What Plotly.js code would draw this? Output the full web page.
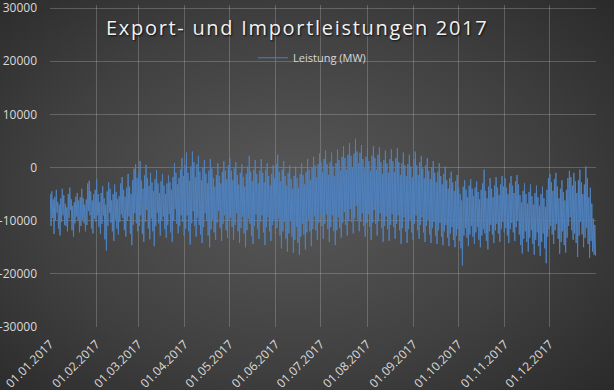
<!DOCTYPE html>
<html><head><meta charset="utf-8">
<script src="https://cdn.plot.ly/plotly-3.0.1.min.js"></script>
<style>
html,body{margin:0;padding:0;width:614px;height:390px;overflow:hidden;}
body{background: radial-gradient(ellipse 75% 80% at 48% 50%, #595959 0%, #404040 55%, #262626 100%);}
#chart{width:614px;height:390px;}
.gtitle{letter-spacing:1.7px;}
</style></head><body><div id="chart"></div>
<script>
const monthStarts = ['2017-01-01','2017-02-01','2017-03-01','2017-04-01','2017-05-01','2017-06-01','2017-07-01','2017-08-01','2017-09-01','2017-10-01','2017-11-01','2017-12-01','2018-01-01'];
const monthLabels = ['01.01.2017','01.02.2017','01.03.2017','01.04.2017','01.05.2017','01.06.2017','01.07.2017','01.08.2017','01.09.2017','01.10.2017','01.11.2017','01.12.2017',''];
const yTicks = [-30000,-20000,-10000,0,10000,20000,30000];
const yLabels = ['-30000','-20000','-10000','0','10000','20000','30000'];
const seriesName = 'Leistung (MW)';
const chartTitle = 'Export- und Importleistungen 2017';

// daily high / low pairs (MW)
const jan = [-5000,-11000,-4500,-9500,-6000,-12500,-5500,-10000,-4200,-8500,-6500,-11500,-7000,-12800,-5800,-10200,-4000,-9000,-5200,-10800,-6800,-11000,-7500,-12000,-5000,-9500,-3800,-8000,-6000,-11800,-7200,-13000,-6500,-10500,-5500,-9200,-4800,-10000,-6200,-12200,-5600,-11000,-4000,-9800,-5800,-10500,-7000,-12000,-6000,-10800,-3000,-8200,-2500,-9000,-4500,-11500,-6200,-12400,-5000,-9600,-4200,-10200];
const feb = [-2200,-9000,-5000,-11200,-6500,-12500,-4800,-10600,-3500,-9000,-5800,-13500,-7000,-15600,-4500,-11000,-2800,-8500,-4000,-10400,-6200,-12000,-5000,-13800,-3200,-9800,-4600,-11500,-6000,-12600,-5400,-10200,-3000,-8800,-1800,-9500,-4200,-11800,-5500,-13000,-3800,-10000,-1200,-9200,-3600,-12500,-5000,-14600,-2400,-10800,-200,-8600,600,-10500,-2000,-12000];
const mar = [-1000,-11000,1200,-9000,-2500,-12500,-4000,-14000,-1500,-10200,500,-8000,-2000,-11500,-3500,-13500,-1000,-9600,-2800,-12000,-4500,-14800,-2200,-11000,-500,-8500,-3000,-10500,-4800,-12800,-2600,-10000,-1200,-9200,-3400,-11600,-5000,-13200,-3000,-10800,-1500,-8800,-2800,-12200,-4200,-14000,-1800,-10000,800,-7800,-1000,-10600,-3200,-12400,-2000,-11000,-400,-9000,1800,-10200,-1600,-12800];
const apr = [400,-11500,2800,-9000,-1000,-12000,-2500,-14500,200,-10500,3000,-8200,1000,-11000,-1800,-13000,600,-9400,2200,-10800,-800,-12600,-2400,-14200,0,-11200,1400,-8600,-1200,-10000,-3000,-12800,-600,-15000,1600,-11600,-200,-9800,-2000,-12200,-3600,-13600,-1400,-10400,800,-8200,-1600,-11400,-3000,-13800,-800,-10600,1200,-9000,-600,-11800,-2200,-13200,400,-10000];
const may = [1800,-9400,-600,-11200,-2400,-13600,-200,-10800,1000,-8600,-1400,-12000,-3200,-14200,-1000,-11400,600,-9200,-1800,-12400,-3600,-15000,-1200,-11800,200,-9600,2200,-10600,-800,-12800,-2600,-14400,-400,-11000,1400,-8800,-1200,-11600,-3000,-13400,-600,-10200,1600,-9000,-1000,-12200,-2800,-14600,-400,-11200,800,-9400,-1600,-12000,-3400,-13800,-1200,-10800,400,-9800,-2000,-12600];
const jun = [600,-11400,2400,-9600,-800,-12800,-2600,-15200,-400,-12000,1200,-10200,-1600,-13400,-3400,-15800,-1000,-12400,400,-10000,-2200,-13000,-4000,-16000,-1600,-13600,200,-11200,-2000,-14200,-3800,-16400,-1200,-13000,800,-10600,-1400,-12600,-3200,-15400,-800,-12200,1600,-9800,-400,-12000,-2400,-14800,0,-11600,2000,-9200,400,-11800,-1800,-13600,600,-10400,2600,-8800];
const jul = [1000,-11000,-800,-13400,1600,-10600,3200,-8800,600,-11600,-1400,-14000,1000,-11200,2800,-9000,200,-12000,-1600,-14600,800,-11800,3400,-9400,1400,-11400,-600,-13200,2000,-10400,4000,-8400,1800,-10800,-400,-12800,2400,-10000,4600,-7800,2200,-10200,0,-12400,2600,-9600,5400,-7200,3000,-9800,800,-12000,2800,-10200,4200,-8600,1600,-11000,-200,-13000,2000,-10400];
const aug = [3600,-8800,1200,-11200,-600,-13600,2200,-10400,4000,-8000,1800,-10600,-400,-12800,2400,-10000,3800,-8600,1000,-11400,-1200,-14000,1400,-11000,3200,-9200,800,-11600,-1000,-13800,1600,-10800,3400,-8800,1200,-11200,-800,-13400,1800,-10600,3600,-9000,1000,-11800,-1400,-14400,800,-11400,2800,-9400,400,-12000,-1600,-14200,600,-11600,2400,-9800,200,-12200,-1800,-13600];
const sep = [1600,-10600,3000,-9000,400,-11800,-1400,-13400,1000,-10800,2200,-9400,-200,-12200,-2000,-14000,400,-11000,1800,-9800,-600,-12600,-2200,-14200,0,-11400,1200,-10200,-1000,-12800,-2800,-14400,-800,-11800,800,-10400,-1600,-13000,-3200,-14600,-1200,-12000,200,-10800,-2400,-13200,-4000,-14800,-2000,-12400,-800,-11200,-2800,-13600,-4400,-15000,-2600,-12800,-1400,-11600];
const oct = [-3800,-13800,-5000,-15200,-6200,-18400,-3600,-12800,-2400,-11400,-4200,-13200,-5600,-14800,-3400,-12600,-2200,-11000,-4000,-13000,-5400,-14400,-3800,-12200,-2600,-11200,-4600,-13600,-6000,-15000,-4200,-12800,-3000,-11600,-400,-12400,-4400,-13800,-5800,-15400,-3600,-12000,-2000,-10800,-4000,-12600,-5600,-14200,-3400,-11800,-1800,-10600,-3800,-12400,-5200,-14000,-3200,-11600,-1600,-10200,-3600,-12200];
const nov = [-2000,-11400,-3800,-12800,-5000,-14200,-3000,-11600,-1600,-10400,-3400,-12200,-4800,-13800,-2600,-11200,-1400,-10000,-3200,-12600,-5200,-14600,-6600,-16200,-4400,-13400,-3000,-12000,-5000,-14000,-6800,-15800,-4600,-13200,-3200,-11800,-5400,-14400,-7000,-16400,-4800,-13600,-3400,-12200,-5600,-14800,-7200,-16600,-5000,-14000,-3600,-12400,-5800,-15200,-7400,-18000,-4200,-13000,-2000,-11600];
const dec = [-1200,-11000,-2800,-12600,-4400,-14400,-2200,-11800,-1000,-10600,-3600,-13400,-5800,-16200,-4000,-14000,-2400,-12000,-4600,-14600,-6200,-16000,-4200,-13200,-2000,-11000,-600,-9400,-1800,-11800,-3400,-13600,-1000,-12400,-2600,-14200,-4800,-16800,-2400,-12800,-400,-10200,-2800,-12600,-5000,-15000,-3200,-13200,200,-11400,-2000,-14400,-5600,-17000,-3800,-13800,-6800,-15800,-9600,-16400,-10800,-16600];

const values = [].concat(jan, feb, mar, apr, may, jun, jul, aug, sep, oct, nov, dec);
function stamp(day, hour) {
  const d = new Date(Date.UTC(2017, 0, 1 + day, hour));
  return d.toISOString().slice(0, 19).replace('T', ' ');
}
const times = values.map((v, i) => stamp(Math.floor(i / 2), i % 2 === 0 ? 5 : 17));

const fontFam = '"Open Sans", "DejaVu Sans", sans-serif';
const grid = 'rgba(200,200,200,0.28)';

Plotly.newPlot('chart', [{
  x: times, y: values, type: 'scatter', mode: 'lines', name: seriesName,
  line: {color: '#4f81bd', width: 1}, showlegend: true
}], {
  width: 614, height: 390,
  margin: {l: 50, r: 18, t: 5, b: 63, pad: 0},
  paper_bgcolor: 'rgba(0,0,0,0)', plot_bgcolor: 'rgba(0,0,0,0)',
  font: {family: fontFam, color: '#d9d9d9', size: 12},
  title: {text: chartTitle, x: 0.484, xref: 'container', xanchor: 'center', y: 0.929, yref: 'container', yanchor: 'middle',
    font: {family: fontFam, size: 20, color: '#f2f2f2', shadow: '1px 1px 2px rgba(0,0,0,0.8)'}},
  showlegend: true,
  legend: {orientation: 'h', x: 0.372, xanchor: 'left', y: 0.836, yanchor: 'middle', bgcolor: 'rgba(0,0,0,0)',
    font: {family: fontFam, size: 11, color: '#d9d9d9'}},
  xaxis: {type: 'date', range: ['2017-01-01', '2018-01-01'], tickmode: 'array', tickvals: monthStarts, ticktext: monthLabels,
    tickangle: -45, showgrid: true, gridcolor: grid, gridwidth: 1, zeroline: false, showline: false, ticks: '',
    ticklabelstandoff: 7, tickfont: {family: fontFam, size: 12, color: '#d9d9d9'}},
  yaxis: {range: [-30000, 30564], tickmode: 'array', tickvals: yTicks, ticktext: yLabels, showgrid: true, gridcolor: grid,
    zeroline: true, zerolinecolor: grid, zerolinewidth: 1, showline: false, ticks: '', ticklabelstandoff: 12,
    ticklabeloverflow: 'allow', tickfont: {family: fontFam, size: 12, color: '#d9d9d9'}}
}, {displayModeBar: false, staticPlot: true});
</script></body></html>
